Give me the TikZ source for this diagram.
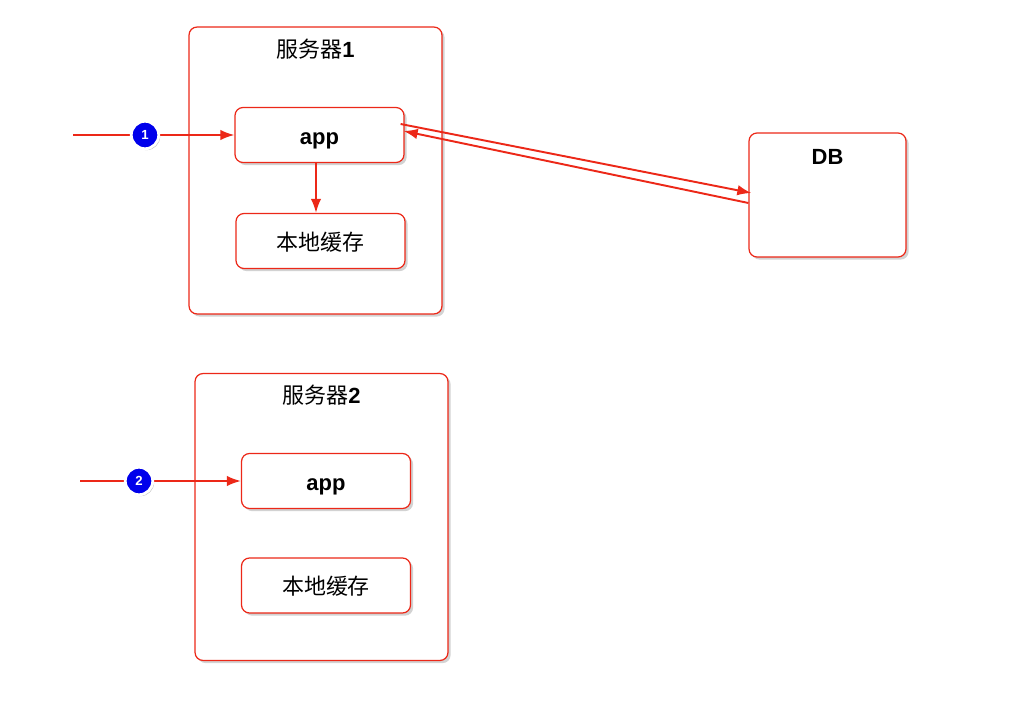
\documentclass[tikz,border=0pt]{standalone}
\usepackage{fontspec}
\setmainfont{Liberation Sans}
\newfontfamily\cjk{Noto Sans CJK SC}
\usepackage{xcolor}
\usetikzlibrary{positioning,calc,arrows.meta,shadows}
\definecolor{linered}{RGB}{236,40,24}
\definecolor{dotblue}{RGB}{0,0,235}

\begin{document}
\begin{tikzpicture}[
    x=0.02cm, y=-0.02cm,
    box/.style={draw=linered, line width=0.7pt, rounded corners=0.16cm, fill=white,
        drop shadow={opacity=0.35, shadow xshift=1.5pt, shadow yshift=-1.5pt},
        minimum width=3.38cm, minimum height=1.1cm, text height=1.05em, text depth=0em,
        font=\fontsize{12.5}{14}\selectfont},
    serverbox/.style={box, minimum width=5.06cm, minimum height=5.74cm},
    flow/.style={draw=linered, line width=1.1pt, -{Latex[length=8pt,width=6pt]}},
    numdot/.style={circle, draw=white, line width=1.6pt, fill=dotblue, text=white,
        inner sep=0pt, minimum size=0.55cm, font=\bfseries\fontsize{7.5}{8}\selectfont,
        drop shadow={opacity=0.5, shadow xshift=0.8pt, shadow yshift=-0.8pt}}
]
\useasboundingbox (0,0) rectangle (1020,709);

% server 1
\node[serverbox] (srv1) at (315.5,170.5) {};
\node[below=0.12cm of srv1.north, font=\fontsize{12.5}{14}\selectfont] (title1) {{\cjk 服务器}\textbf{1}};
\node[box] (app1) at (319.5,135) {\textbf{app}};
\node[box] (cache1) at (320.5,241) {\cjk 本地缓存};

% server 2
\node[serverbox] (srv2) at (321.5,517) {};
\node[below=0.12cm of srv2.north, font=\fontsize{12.5}{14}\selectfont] (title2) {{\cjk 服务器}\textbf{2}};
\node[box] (app2) at (326,481) {\textbf{app}};
\node[box] (cache2) at (326,585.5) {\cjk 本地缓存};

% database
\node[box, minimum width=3.14cm, minimum height=2.48cm] (db) at (827.5,195) {};
\node[below=0.22cm of db.north, font=\bfseries\fontsize{12.5}{14}\selectfont] (dbtitle) {DB};

% requests
\coordinate (in1) at (73,135);
\coordinate (in2) at (80,481);
\draw[flow] (in1) -- (app1.west);
\draw[flow] (in2) -- (app2.west);
\node[numdot] (dot1) at (145,135) {1};
\node[numdot] (dot2) at (139,481) {2};

\draw[flow] (app1.south -| 316,0) -- (cache1.north -| 316,0);
\draw[flow] ([shift={(-4,-11)}]app1.east) -- ([shift={(3,-2)}]db.west);
\draw[flow] ([shift={(0,8)}]db.west) -- ([shift={(-1,-4)}]app1.east);
\end{tikzpicture}
\end{document}
